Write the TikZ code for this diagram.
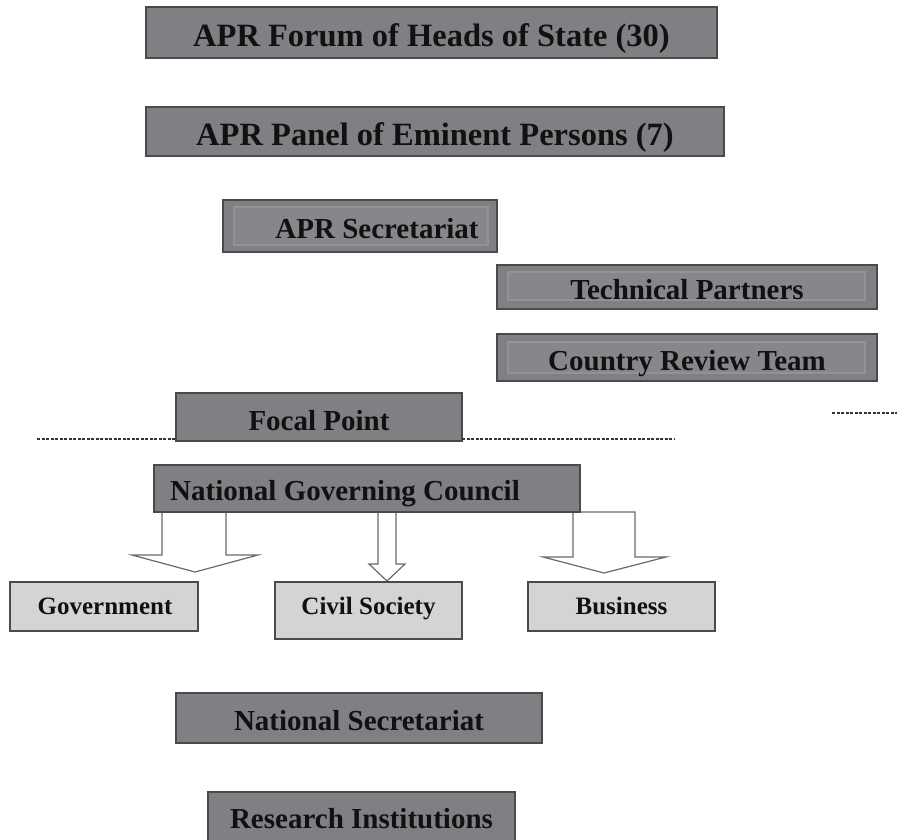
\documentclass[tikz,border=0pt]{standalone}
\usepackage{fontspec}
\setmainfont{Liberation Serif}
\usetikzlibrary{backgrounds,calc}
\definecolor{darkfill}{HTML}{808084}
\definecolor{innerfill}{HTML}{87878B}
\definecolor{innerline}{HTML}{939397}
\definecolor{boxline}{HTML}{4A4A4A}
\definecolor{lightfill}{HTML}{D4D4D6}
\definecolor{arrowline}{HTML}{6A6A6A}
\definecolor{txt}{HTML}{111111}
\tikzset{
  darkbox/.style={draw=boxline, line width=1.5pt, fill=darkfill, inner sep=0pt, outer sep=0pt},
  lightbox/.style={draw=boxline, line width=1.2pt, fill=lightfill, inner sep=0pt, outer sep=0pt},
  innerbox/.style={draw=innerline, line width=1.5pt, fill=innerfill},
  lbl/.style={text=txt, inner sep=0pt, text depth=0pt},
  blockarrow/.style={draw=arrowline, line width=1.2pt, fill=white, line join=miter},
  dashline/.style={draw=black!80, line width=1.6pt, dash pattern=on 3pt off 1.5pt},
  fA/.style={font=\bfseries\fontsize{32.5}{36}\selectfont, text height=21.5pt},
  fB/.style={font=\bfseries\fontsize{29}{33}\selectfont, text height=19.2pt},
  fC/.style={font=\bfseries\fontsize{25}{29}\selectfont, text height=16.5pt},
}
\begin{document}
\begin{tikzpicture}[x=1pt,y=-1pt]
\useasboundingbox (0,0) rectangle (897,839);

% top boxes
\node[darkbox, minimum width=571pt, minimum height=51pt] (forum) at (431.5,32.5) {};
\node[lbl, fA] (forumtxt) at ($(forum.center)+(0,3)$) {APR Forum of Heads of State (30)};
\node[darkbox, minimum width=578pt, minimum height=49pt] (panel) at (435,131.5) {};
\node[lbl, fA] (paneltxt) at ($(panel.center)+(0,3)$) {APR Panel of Eminent Persons (7)};

% APR Secretariat
\node[darkbox, minimum width=274pt, minimum height=52pt] (aprsec) at (360,226) {};
\draw[innerbox] (234,207) rectangle (488,245);
\node[lbl, fB] (aprsectxt) at (377,229) {APR Secretariat};

% Technical Partners
\node[darkbox, minimum width=380pt, minimum height=44pt] (tech) at (687,287) {};
\draw[innerbox] (508,272) rectangle (865,300);
\node[lbl, fB] (techtxt) at ($(tech.center)+(0,3)$) {Technical Partners};

% Country Review Team
\node[darkbox, minimum width=380pt, minimum height=47pt] (crt) at (687,357.5) {};
\draw[innerbox] (508,342) rectangle (865,373);
\node[lbl, fB] (crttxt) at ($(crt.center)+(0,3)$) {Country Review Team};

% Focal point + dashed lines
\node[darkbox, minimum width=286pt, minimum height=48pt] (focal) at (319,417) {};
\node[lbl, fB] (focaltxt) at ($(focal.center)+(0,3.5)$) {Focal Point};
\coordinate (dl) at (37,439);
\coordinate (dr) at (675,439);
\coordinate (dr2a) at (832,413);
\coordinate (dr2b) at (897,413);
\draw[dashline] (dl) -- (dl -| focal.west);
\draw[dashline] (dr -| focal.east) -- (dr);
\draw[dashline] (dr2a) -- (dr2b);

% National Governing Council
\node[darkbox, minimum width=426pt, minimum height=47pt] (ngc) at (367,488.5) {};
\node[lbl, fB, anchor=west] (ngctxt) at (170,491) {National Governing Council};

% block arrows
\begin{scope}[on background layer]
\coordinate (tipG) at (195,572);
\coordinate (tipC) at (387,581);
\coordinate (tipB) at (604,573);
\draw[blockarrow] (162,512) -- (162,555) -- (132,555) -- (tipG) -- (258,555) -- (226,555) -- (226,512) -- cycle;
\draw[blockarrow] (378,512) -- (378,564) -- (369,564) -- (tipC) -- (405,564) -- (396,564) -- (396,512) -- cycle;
\draw[blockarrow] (573,512) -- (573,557) -- (543,557) -- (tipB) -- (666,557) -- (635,557) -- (635,512) -- cycle;
\end{scope}

% light boxes
\node[lightbox, minimum width=188pt, minimum height=49pt] (gov) at (104,606.5) {};
\node[lbl, fC] (govtxt) at (105,606) {Government};
\node[lightbox, minimum width=187pt, minimum height=57pt] (civil) at (368.5,610.5) {};
\node[lbl, fC] (civiltxt) at (368.5,606) {Civil Society};
\node[lightbox, minimum width=187pt, minimum height=49pt] (bus) at (621.5,606.5) {};
\node[lbl, fC] (bustxt) at (621.5,606) {Business};

% bottom boxes
\node[darkbox, minimum width=366pt, minimum height=50pt] (natsec) at (359,718) {};
\node[lbl, fB] (natsectxt) at ($(natsec.center)+(0,3)$) {National Secretariat};
\node[darkbox, minimum width=307pt, minimum height=56pt] (research) at (361.5,820) {};
\node[lbl, fB] (researchtxt) at (361.5,819) {Research Institutions};
\end{tikzpicture}
\end{document}
